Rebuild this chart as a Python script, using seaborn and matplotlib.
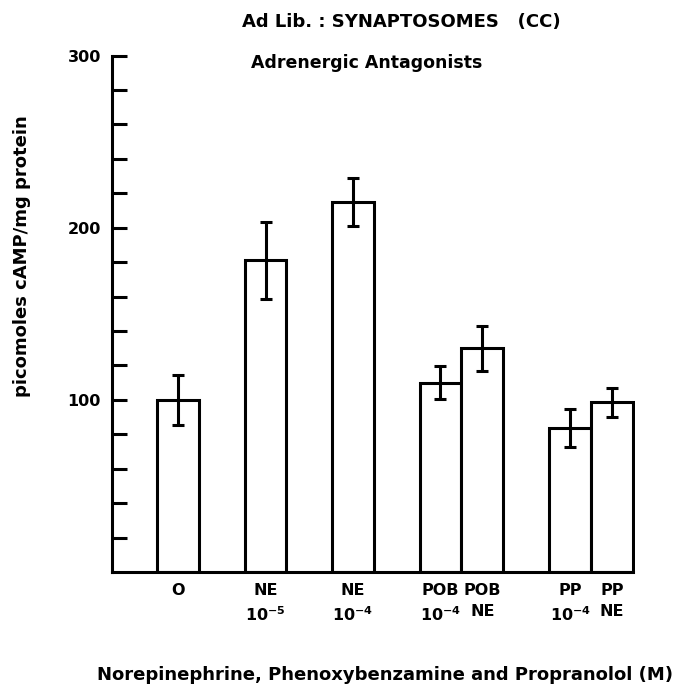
import numpy as np
import pandas as pd
import seaborn as sns
import matplotlib
matplotlib.use("Agg")
import matplotlib.pyplot as plt
from matplotlib.ticker import FixedLocator

# ---- data ----
labels = ["O", "NE\n10$^{-5}$", "NE\n10$^{-4}$", "POB\n10$^{-4}$", "POB\nNE",
          "PP\n10$^{-4}$", "PP\nNE"]
means = [100, 181, 215, 110, 130, 83.5, 98.5]
errors = [14.5, 22.5, 14, 9.5, 13, 11, 8.2]
y_major = [100, 200, 300]
y_minor = [20, 40, 60, 80, 120, 140, 160, 180, 220, 240, 260, 280]

# ---- layout ----
x_pos = [1.58, 3.67, 5.76, 7.85, 8.85, 10.95, 11.95]

sns.set_theme(style="white")
plt.rcParams["font.family"] = ["DejaVu Sans"]
plt.rcParams["font.weight"] = "bold"
plt.rcParams["mathtext.fontset"] = "dejavusans"
plt.rcParams["mathtext.default"] = "bf"
for k in ["text.color", "axes.labelcolor", "xtick.color", "ytick.color"]:
    plt.rcParams[k] = "black"

W, H = 673, 689
fig = plt.figure(figsize=(W / 100, H / 100), dpi=100)
ax = fig.add_axes([112 / W, (H - 572) / H, (635 - 112) / W, (572 - 55.5) / H])

df = pd.DataFrame({"pos": x_pos, "mean": means})
sns.barplot(data=df, x="pos", y="mean", native_scale=True, width=1.0,
            color="white", saturation=1, edgecolor="black", linewidth=2.2,
            errorbar=None, ax=ax)
ax.errorbar(x_pos, means, yerr=errors, fmt="none", ecolor="black",
            elinewidth=2.2, capsize=4.3, capthick=2.2, zorder=5)

ax.set_xlim(0, 12.5)
ax.set_ylim(0, 300)
ax.set_yticks(y_major)
ax.set_yticklabels([str(v) for v in y_major], fontsize=11.5, fontweight="bold")
ax.yaxis.set_minor_locator(FixedLocator(y_minor))
ax.tick_params(axis="y", which="both", direction="in", length=11, width=2.2,
               pad=8, left=True, color="black")
ax.set_xticks(x_pos)
ax.set_xticklabels(labels, fontsize=11.5, fontweight="bold")
for t in ax.get_xticklabels():
    t.set_linespacing(1.45)
ax.tick_params(axis="x", length=0, pad=8)
ax.set_xlabel("")
ax.set_ylabel("")

for s in ["top", "right"]:
    ax.spines[s].set_visible(False)
for s in ["left", "bottom"]:
    ax.spines[s].set_color("black")
    ax.spines[s].set_linewidth(2.2)
ax.spines["bottom"].set_bounds(0, 12.45)

fig.text(401 / W, 1 - 22 / H, "Ad Lib. : SYNAPTOSOMES   (CC)", ha="center",
         va="center", fontsize=13, fontweight="bold")
fig.text(367 / W, 1 - 63 / H, "Adrenergic Antagonists", ha="center",
         va="center", fontsize=12.5, fontweight="bold")
fig.text(385 / W, 1 - 675 / H,
         "Norepinephrine, Phenoxybenzamine and Propranolol (M)",
         ha="center", va="center", fontsize=13, fontweight="bold")
fig.text(22 / W, 1 - 256 / H, "picomoles cAMP/mg protein", ha="center",
         va="center", rotation=90, fontsize=13, fontweight="bold")

fig.savefig("out.png", dpi=100, facecolor="white")
